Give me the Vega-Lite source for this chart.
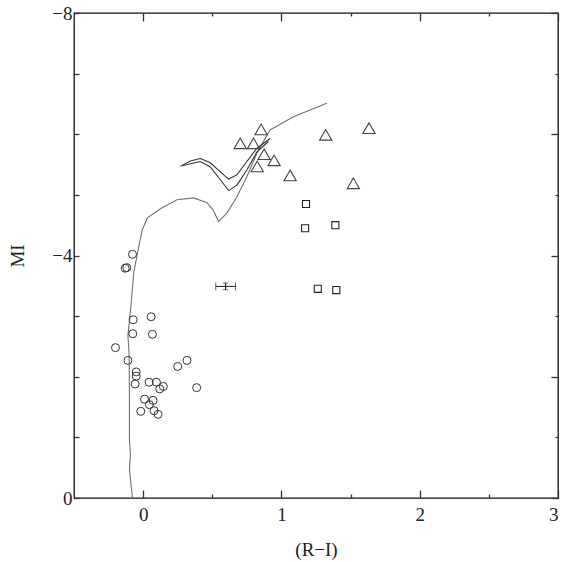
{
  "$schema": "https://vega.github.io/schema/vega-lite/v6.json",
  "width": 484,
  "height": 485,
  "autosize": "none",
  "padding": {"left": 74, "top": 13, "right": 12, "bottom": 64},
  "config": {
    "view": {"stroke": "#111", "strokeWidth": 1.3},
    "axis": {
      "grid": false, "domain": false,
      "labelFont": "Times New Roman, Liberation Serif, serif", "titleFont": "Times New Roman, Liberation Serif, serif",
      "labelColor": "#222", "titleColor": "#222", "tickColor": "#333",
      "labelFontSize": 19, "titleFontSize": 19, "titleFontWeight": "normal", "tickWidth": 1.3
    }
  },
  "datasets": {
    "curves": [
      {"series": "C", "order": 1, "x": -0.077, "y": 0.0},
      {"series": "C", "order": 2, "x": -0.084, "y": -0.14},
      {"series": "C", "order": 3, "x": -0.099, "y": -0.47},
      {"series": "C", "order": 4, "x": -0.092, "y": -0.72},
      {"series": "C", "order": 5, "x": -0.099, "y": -0.96},
      {"series": "C", "order": 6, "x": -0.099, "y": -1.62},
      {"series": "C", "order": 7, "x": -0.101, "y": -2.33},
      {"series": "C", "order": 8, "x": -0.11, "y": -2.69},
      {"series": "C", "order": 9, "x": -0.106, "y": -2.77},
      {"series": "C", "order": 10, "x": -0.089, "y": -3.15},
      {"series": "C", "order": 11, "x": -0.068, "y": -3.72},
      {"series": "C", "order": 12, "x": -0.032, "y": -4.14},
      {"series": "C", "order": 13, "x": -0.007, "y": -4.42},
      {"series": "C", "order": 14, "x": 0.031, "y": -4.62},
      {"series": "C", "order": 15, "x": 0.125, "y": -4.77},
      {"series": "C", "order": 16, "x": 0.245, "y": -4.92},
      {"series": "C", "order": 17, "x": 0.365, "y": -4.95},
      {"series": "C", "order": 18, "x": 0.462, "y": -4.87},
      {"series": "C", "order": 19, "x": 0.507, "y": -4.75},
      {"series": "C", "order": 20, "x": 0.545, "y": -4.56},
      {"series": "C", "order": 21, "x": 0.606, "y": -4.7},
      {"series": "C", "order": 22, "x": 0.678, "y": -4.97},
      {"series": "C", "order": 23, "x": 0.75, "y": -5.3},
      {"series": "C", "order": 24, "x": 0.823, "y": -5.69},
      {"series": "C", "order": 25, "x": 0.918, "y": -6.07},
      {"series": "C", "order": 26, "x": 1.087, "y": -6.29},
      {"series": "C", "order": 27, "x": 1.328, "y": -6.51},
      {"series": "A", "order": 1, "x": 0.269, "y": -5.47},
      {"series": "A", "order": 2, "x": 0.341, "y": -5.56},
      {"series": "A", "order": 3, "x": 0.413, "y": -5.6},
      {"series": "A", "order": 4, "x": 0.486, "y": -5.53},
      {"series": "A", "order": 5, "x": 0.558, "y": -5.38},
      {"series": "A", "order": 6, "x": 0.618, "y": -5.26},
      {"series": "A", "order": 7, "x": 0.678, "y": -5.33},
      {"series": "A", "order": 8, "x": 0.75, "y": -5.55},
      {"series": "A", "order": 9, "x": 0.823, "y": -5.77},
      {"series": "A", "order": 10, "x": 0.918, "y": -5.93},
      {"series": "B", "order": 1, "x": 0.281, "y": -5.48},
      {"series": "B", "order": 2, "x": 0.413, "y": -5.55},
      {"series": "B", "order": 3, "x": 0.486, "y": -5.46},
      {"series": "B", "order": 4, "x": 0.558, "y": -5.25},
      {"series": "B", "order": 5, "x": 0.618, "y": -5.07},
      {"series": "B", "order": 6, "x": 0.678, "y": -5.16},
      {"series": "B", "order": 7, "x": 0.75, "y": -5.41},
      {"series": "B", "order": 8, "x": 0.823, "y": -5.71},
      {"series": "B", "order": 9, "x": 0.906, "y": -5.88}
    ],
    "stars": [
      {"group": "circle", "x": -0.077, "y": -4.02},
      {"group": "circle", "x": -0.13, "y": -3.79},
      {"group": "circle", "x": -0.118, "y": -3.8},
      {"group": "circle", "x": -0.072, "y": -2.94},
      {"group": "circle", "x": 0.058, "y": -2.99},
      {"group": "circle", "x": -0.075, "y": -2.71},
      {"group": "circle", "x": 0.067, "y": -2.7},
      {"group": "circle", "x": -0.2, "y": -2.48},
      {"group": "circle", "x": -0.11, "y": -2.27},
      {"group": "circle", "x": -0.05, "y": -2.08},
      {"group": "circle", "x": -0.05, "y": -2.01},
      {"group": "circle", "x": -0.058, "y": -1.88},
      {"group": "circle", "x": 0.043, "y": -1.91},
      {"group": "circle", "x": 0.096, "y": -1.91},
      {"group": "circle", "x": 0.12, "y": -1.8},
      {"group": "circle", "x": 0.146, "y": -1.84},
      {"group": "circle", "x": 0.01, "y": -1.63},
      {"group": "circle", "x": 0.072, "y": -1.61},
      {"group": "circle", "x": 0.045, "y": -1.54},
      {"group": "circle", "x": 0.079, "y": -1.44},
      {"group": "circle", "x": -0.017, "y": -1.43},
      {"group": "circle", "x": 0.108, "y": -1.38},
      {"group": "circle", "x": 0.25, "y": -2.17},
      {"group": "circle", "x": 0.317, "y": -2.27},
      {"group": "circle", "x": 0.387, "y": -1.82},
      {"group": "triangle", "x": 0.853, "y": -6.08},
      {"group": "triangle", "x": 0.702, "y": -5.85},
      {"group": "triangle", "x": 0.798, "y": -5.85},
      {"group": "triangle", "x": 0.875, "y": -5.67},
      {"group": "triangle", "x": 0.947, "y": -5.57},
      {"group": "triangle", "x": 0.825, "y": -5.47},
      {"group": "triangle", "x": 1.063, "y": -5.32},
      {"group": "triangle", "x": 1.32, "y": -5.99},
      {"group": "triangle", "x": 1.633, "y": -6.1},
      {"group": "triangle", "x": 1.52, "y": -5.19},
      {"group": "square", "x": 1.178, "y": -4.85},
      {"group": "square", "x": 1.171, "y": -4.45},
      {"group": "square", "x": 1.39, "y": -4.5},
      {"group": "square", "x": 1.263, "y": -3.45},
      {"group": "square", "x": 1.397, "y": -3.43}
    ],
    "errbar": [
      {"x": 0.596, "y": -3.49, "xlo": 0.525, "xhi": 0.668, "ylo": -3.435, "yhi": -3.545}
    ]
  },
  "layer": [
    {
      "data": {"name": "curves"},
      "transform": [{"filter": "datum.series === 'C'"}],
      "mark": {"type": "line", "color": "#707070", "strokeWidth": 1.1},
      "encoding": {
        "x": {"field": "x", "type": "quantitative", "scale": {"domain": [-0.5, 3], "nice": false, "zero": false},
              "axis": {"orient": "bottom", "values": [0, 1, 2, 3], "tickSize": -8, "labelPadding": 15, "title": "(R−I)", "titlePadding": 16}},
        "y": {"field": "y", "type": "quantitative", "scale": {"domain": [-8, 0], "reverse": true, "nice": false, "zero": false},
              "axis": {"orient": "left", "values": [-8, -7, -6, -5, -4, -3, -2, -1, 0], "tickSize": -5, "labelPadding": 7,
                       "labelExpr": "datum.value % 4 === 0 ? datum.label : ''", "title": "MI", "titlePadding": 24}},
        "order": {"field": "order", "type": "quantitative"}
      }
    },
    {
      "data": {"name": "curves"},
      "transform": [{"filter": "datum.series !== 'C'"}],
      "mark": {"type": "line", "color": "#333", "strokeWidth": 1.1},
      "encoding": {
        "x": {"field": "x", "type": "quantitative", "scale": {"domain": [-0.5, 3], "nice": false, "zero": false},
              "axis": {"orient": "bottom", "values": [0.5, 1.5, 2.5], "tickSize": -4, "labels": false, "title": null}},
        "y": {"field": "y", "type": "quantitative", "scale": {"domain": [-8, 0], "reverse": true, "nice": false, "zero": false},
              "axis": {"orient": "right", "values": [-8, -6, -4, -2, 0], "tickSize": -7, "labels": false, "title": null}},
        "detail": {"field": "series"},
        "order": {"field": "order", "type": "quantitative"}
      }
    },
    {
      "data": {"name": "stars"},
      "transform": [{"filter": "datum.group === 'circle'"}],
      "mark": {"type": "point", "shape": "circle", "filled": false, "stroke": "#333", "strokeWidth": 1, "size": 64, "opacity": 1},
      "encoding": {
        "x": {"field": "x", "type": "quantitative", "scale": {"domain": [-0.5, 3], "nice": false, "zero": false},
              "axis": {"orient": "top", "values": [0, 1, 2, 3], "tickSize": -8, "labels": false, "title": null}},
        "y": {"field": "y", "type": "quantitative", "scale": {"domain": [-8, 0], "reverse": true, "nice": false, "zero": false},
              "axis": {"orient": "right", "values": [-7, -5, -3, -1], "tickSize": -3, "labels": false, "title": null}}
      }
    },
    {
      "data": {"name": "stars"},
      "transform": [{"filter": "datum.group === 'triangle'"}],
      "mark": {"type": "point", "shape": "triangle-up", "filled": false, "stroke": "#444", "strokeWidth": 1.1, "size": 150, "opacity": 1},
      "encoding": {
        "x": {"field": "x", "type": "quantitative", "scale": {"domain": [-0.5, 3], "nice": false, "zero": false},
              "axis": {"orient": "top", "values": [0.5, 1.5, 2.5], "tickSize": -3, "labels": false, "title": null}},
        "y": {"field": "y", "type": "quantitative", "scale": {"domain": [-8, 0], "reverse": true, "nice": false, "zero": false}, "axis": null}
      }
    },
    {
      "data": {"name": "stars"},
      "transform": [{"filter": "datum.group === 'square'"}],
      "mark": {"type": "point", "shape": "square", "filled": false, "stroke": "#222", "strokeWidth": 1.1, "size": 50, "opacity": 1},
      "encoding": {
        "x": {"field": "x", "type": "quantitative", "scale": {"domain": [-0.5, 3], "nice": false, "zero": false}, "axis": null},
        "y": {"field": "y", "type": "quantitative", "scale": {"domain": [-8, 0], "reverse": true, "nice": false, "zero": false}, "axis": null}
      }
    },
    {
      "data": {"name": "errbar"},
      "mark": {"type": "rule", "color": "#222", "strokeWidth": 1},
      "encoding": {
        "x": {"field": "xlo", "type": "quantitative", "scale": {"domain": [-0.5, 3], "nice": false, "zero": false}, "axis": null},
        "x2": {"field": "xhi"},
        "y": {"field": "y", "type": "quantitative", "scale": {"domain": [-8, 0], "reverse": true, "nice": false, "zero": false}, "axis": null}
      }
    },
    {
      "data": {"name": "errbar"},
      "mark": {"type": "rule", "color": "#222", "strokeWidth": 1.2},
      "encoding": {
        "x": {"field": "x", "type": "quantitative", "scale": {"domain": [-0.5, 3], "nice": false, "zero": false}, "axis": null},
        "y": {"field": "ylo", "type": "quantitative", "scale": {"domain": [-8, 0], "reverse": true, "nice": false, "zero": false}, "axis": null},
        "y2": {"field": "yhi"}
      }
    },
    {
      "data": {"name": "errbar"},
      "transform": [{"fold": ["xlo", "xhi"], "as": ["end", "xe"]}],
      "mark": {"type": "tick", "orient": "vertical", "color": "#222", "thickness": 1, "size": 8},
      "encoding": {
        "x": {"field": "xe", "type": "quantitative", "scale": {"domain": [-0.5, 3], "nice": false, "zero": false}, "axis": null},
        "y": {"field": "y", "type": "quantitative", "scale": {"domain": [-8, 0], "reverse": true, "nice": false, "zero": false}, "axis": null}
      }
    },
    {
      "data": {"name": "errbar"},
      "transform": [{"fold": ["ylo", "yhi"], "as": ["end", "ye"]}],
      "mark": {"type": "tick", "orient": "horizontal", "color": "#222", "thickness": 1, "size": 5},
      "encoding": {
        "x": {"field": "x", "type": "quantitative", "scale": {"domain": [-0.5, 3], "nice": false, "zero": false}, "axis": null},
        "y": {"field": "ye", "type": "quantitative", "scale": {"domain": [-8, 0], "reverse": true, "nice": false, "zero": false}, "axis": null}
      }
    }
  ],
  "resolve": {"axis": {"x": "independent", "y": "independent"}}
}
